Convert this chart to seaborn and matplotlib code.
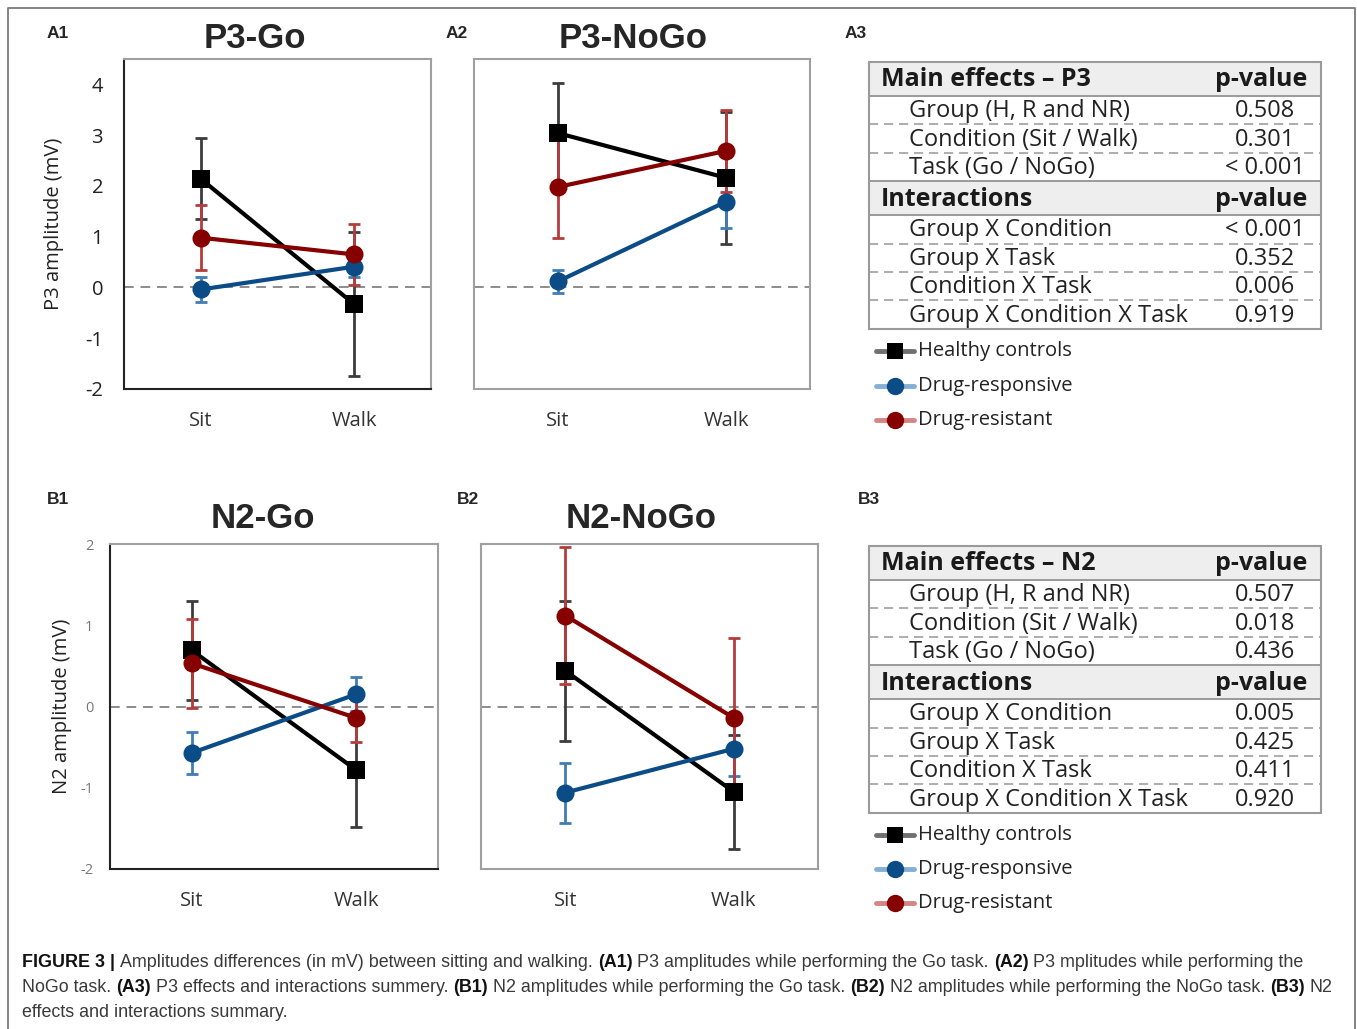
import matplotlib
matplotlib.use("Agg")
import matplotlib.pyplot as plt
from matplotlib import font_manager
from matplotlib.patches import Rectangle
import pandas as pd
import seaborn as sns

# values (rows follow `groups`, columns follow `conditions`)
groups = ["Healthy controls", "Drug-responsive", "Drug-resistant"]
conditions = ["Sit", "Walk"]

p3_go_mean = [[2.14, -0.33], [-0.04, 0.41], [0.98, 0.65]]
p3_go_err = [[0.80, 1.42], [0.25, 0.20], [0.64, 0.60]]
p3_nogo_mean = [[3.04, 2.16], [0.12, 1.69], [1.98, 2.69]]
p3_nogo_err = [[0.98, 1.30], [0.23, 0.52], [1.00, 0.80]]
n2_go_mean = [[0.69, -0.78], [-0.57, 0.15], [0.53, -0.14]]
n2_go_err = [[0.61, 0.70], [0.26, 0.21], [0.55, 0.30]]
n2_nogo_mean = [[0.44, -1.05], [-1.06, -0.52], [1.12, -0.14]]
n2_nogo_err = [[0.86, 0.70], [0.37, 0.33], [0.84, 0.98]]

main_labels = ["Group (H, R and NR)", "Condition (Sit / Walk)", "Task (Go / NoGo)"]
inter_labels = ["Group X Condition", "Group X Task", "Condition X Task",
                "Group X Condition X Task"]
p3_main_p = ["0.508", "0.301", "< 0.001"]
p3_inter_p = ["< 0.001", "0.352", "0.006", "0.919"]
n2_main_p = ["0.507", "0.018", "0.436"]
n2_inter_p = ["0.005", "0.425", "0.411", "0.920"]

# styling
line_colors = {"Healthy controls": "#000000", "Drug-responsive": "#0b4c86",
               "Drug-resistant": "#870000"}
err_colors = {"Healthy controls": "#3c3c3c", "Drug-responsive": "#3f7db4",
              "Drug-resistant": "#b43c3c"}
light_colors = {"Healthy controls": "#707070", "Drug-responsive": "#85b0d6",
                "Drug-resistant": "#d68585"}
markers = {"Healthy controls": "s", "Drug-responsive": "o", "Drug-resistant": "o"}

sns.set_style("white")
plt.rcParams["font.family"] = ["Open Sans", "DejaVu Sans"]
plt.rcParams["axes.unicode_minus"] = False

W, H = 1357, 1029
fig = plt.figure(figsize=(W / 100, H / 100), dpi=100)


def px_axes(l, t, r, b):
    return fig.add_axes([l / W, 1 - b / H, (r - l) / W, (b - t) / H])


def draw_panel(ax, mean, err, ylim, first):
    rows = []
    for gi, g in enumerate(groups):
        for ci, c in enumerate(conditions):
            rows.append({"group": g, "pos": ci, "amp": mean[gi][ci]})
    df = pd.DataFrame(rows)
    ax.axhline(0, color="#8c8c8c", ls=(0, (5, 3.5)), lw=1.4, zorder=1)
    for gi, g in enumerate(groups):
        ax.errorbar(range(len(conditions)), mean[gi], yerr=err[gi], fmt="none",
                    ecolor=err_colors[g], elinewidth=2, capsize=4.5,
                    capthick=2, zorder=2)
    sns.lineplot(data=df, x="pos", y="amp", hue="group", style="group",
                 hue_order=groups, style_order=groups, palette=line_colors,
                 markers=markers, dashes=False, markersize=13, linewidth=3,
                 markeredgewidth=0, errorbar=None, legend=False, ax=ax, zorder=3)
    ax.set_xlim(-0.5, 1.5)
    ax.set_ylim(*ylim)
    ax.set_xticks(range(len(conditions)), conditions)
    ax.tick_params(axis="x", length=0, pad=16, labelsize=14.5, labelcolor="#333333")
    ax.set_xlabel("")
    for side, sp in ax.spines.items():
        sp.set_linewidth(1.5)
        sp.set_color("#a0a0a0")
        sp.set_visible(True)
    if first:
        ax.spines["left"].set_color("#222222")
        ax.spines["bottom"].set_color("#222222")
    else:
        ax.set_yticks([])
        ax.set_ylabel("")


# A1
ax = px_axes(124, 59, 431, 389)
draw_panel(ax, p3_go_mean, p3_go_err, (-2, 4.5), True)
ax.set_yticks(range(-2, 5))
ax.tick_params(axis="y", length=0, pad=15, labelsize=14.5, labelcolor="#222222")
ax.set_ylabel("P3 amplitude (mV)", fontsize=14.5, color="#222222")
ax.yaxis.set_label_coords(-0.196, 0.5)

# A2
ax = px_axes(474, 59, 810, 389)
draw_panel(ax, p3_nogo_mean, p3_nogo_err, (-2, 4.5), False)

# B1
ax = px_axes(110, 544, 438, 869)
draw_panel(ax, n2_go_mean, n2_go_err, (-2, 2), True)
ax.set_yticks(range(-2, 3))
ax.tick_params(axis="y", length=0, pad=12, labelsize=10.5, labelcolor="#777777")
ax.set_ylabel("N2 amplitude (mV)", fontsize=14.5, color="#222222")
ax.yaxis.set_label_coords(-0.115, 0.5)

# B2
ax = px_axes(481, 544, 818, 869)
draw_panel(ax, n2_nogo_mean, n2_nogo_err, (-2, 2), False)

# overlay in pixel coordinates for labels, tables, legends and caption
ov = fig.add_axes([0, 0, 1, 1])
ov.set_xlim(0, W)
ov.set_ylim(H, 0)
ov.axis("off")

arial = "Liberation Sans"
for txt, x, y in [("A1", 47, 34), ("A2", 446, 34), ("A3", 845, 34),
                  ("B1", 47, 499), ("B2", 457, 499), ("B3", 858, 499)]:
    ov.text(x, y, txt, family=arial, fontweight="bold", fontsize=12.5,
            ha="left", va="center")
for txt, x, y in [("P3-Go", 255, 39), ("P3-NoGo", 633, 39),
                  ("N2-Go", 263, 519), ("N2-NoGo", 641, 519)]:
    ov.text(x, y, txt, family=arial, fontweight="bold", fontsize=25,
            ha="center", va="center")


def draw_table(top, title, main_p, inter_p):
    left, right = 869, 1321
    head_h, row_h = 34, 28.4
    y = top
    for head, labels, pvals in [(title, main_labels, main_p),
                                ("Interactions", inter_labels, inter_p)]:
        ov.add_patch(Rectangle((left, y), right - left, head_h, facecolor="#eeeeee",
                               edgecolor="#9a9a9a", lw=1.4, zorder=1))
        ov.text(881, y + head_h / 2 + 1, head, fontsize=18, fontweight="bold",
                color="#1a1a1a", ha="left", va="center")
        ov.text(1261, y + head_h / 2 + 1, "p-value", fontsize=18,
                fontweight="bold", color="#1a1a1a", ha="center", va="center")
        y += head_h
        for i, (lab, p) in enumerate(zip(labels, pvals)):
            ov.text(909, y + row_h / 2 + 1, lab, fontsize=17, color="#222222",
                    ha="left", va="center")
            ov.text(1265, y + row_h / 2 + 1, p, fontsize=17, color="#222222",
                    ha="center", va="center")
            y += row_h
            if i < len(labels) - 1:
                ov.plot([left, right], [y, y], color="#a0a0a0", lw=1.2,
                        ls=(0, (5.5, 3.5)), zorder=1)
    ov.add_patch(Rectangle((left, top), right - left, y - top, facecolor="none",
                           edgecolor="#9a9a9a", lw=1.5, zorder=2))


def draw_legend(ys):
    for g, y in zip(groups, ys):
        ov.plot([876, 914], [y, y], color=light_colors[g], lw=3.5,
                solid_capstyle="round", zorder=2)
        ov.plot([895], [y], marker=markers[g], color=line_colors[g],
                ms=12.5 if markers[g] == "o" else 12, mew=0, zorder=3)
        ov.text(918, y, g, fontsize=14.5, color="#222222", ha="left", va="center")


draw_table(62, "Main effects \u2013 P3", p3_main_p, p3_inter_p)
draw_legend([351, 386, 420])
draw_table(546, "Main effects \u2013 N2", n2_main_p, n2_inter_p)
draw_legend([835, 869, 903])

# outer frame
ov.plot([8, 8, 1355, 1355], [H + 5, 8, 8, H + 5], color="#7a7a7a", lw=1.3,
        clip_on=False)

# caption with bold pieces
names = {f.name for f in font_manager.fontManager.ttflist}
cap_family = "Liberation Sans Narrow" if "Liberation Sans Narrow" in names else arial
cap_size = 12.9
renderer = fig.canvas.get_renderer()


def text_width(s, bold):
    t = ov.text(0, 0, s, family=cap_family, fontsize=cap_size,
                fontweight="bold" if bold else "normal")
    w = t.get_window_extent(renderer=renderer).width
    t.remove()
    return w


space_w = text_width("x x", False) - text_width("xx", False)
caption = [
    [("FIGURE 3 |", True), ("Amplitudes differences (in mV) between sitting and walking.", False),
     ("(A1)", True), ("P3 amplitudes while performing the Go task.", False),
     ("(A2)", True), ("P3 mplitudes while performing the", False)],
    [("NoGo task.", False), ("(A3)", True),
     ("P3 effects and interactions summery.", False), ("(B1)", True),
     ("N2 amplitudes while performing the Go task.", False), ("(B2)", True),
     ("N2 amplitudes while performing the NoGo task.", False), ("(B3)", True),
     ("N2", False)],
    [("effects and interactions summary.", False)],
]
for line, base in zip(caption, [967, 992, 1017]):
    x = 22
    for s, bold in line:
        t = ov.text(x, base, s, family=cap_family, fontsize=cap_size,
                    fontweight="bold" if bold else "normal",
                    color="#111111" if bold else "#3a3a3a", ha="left", va="baseline")
        x += t.get_window_extent(renderer=renderer).width + space_w

fig.savefig("out.png", dpi=100)
